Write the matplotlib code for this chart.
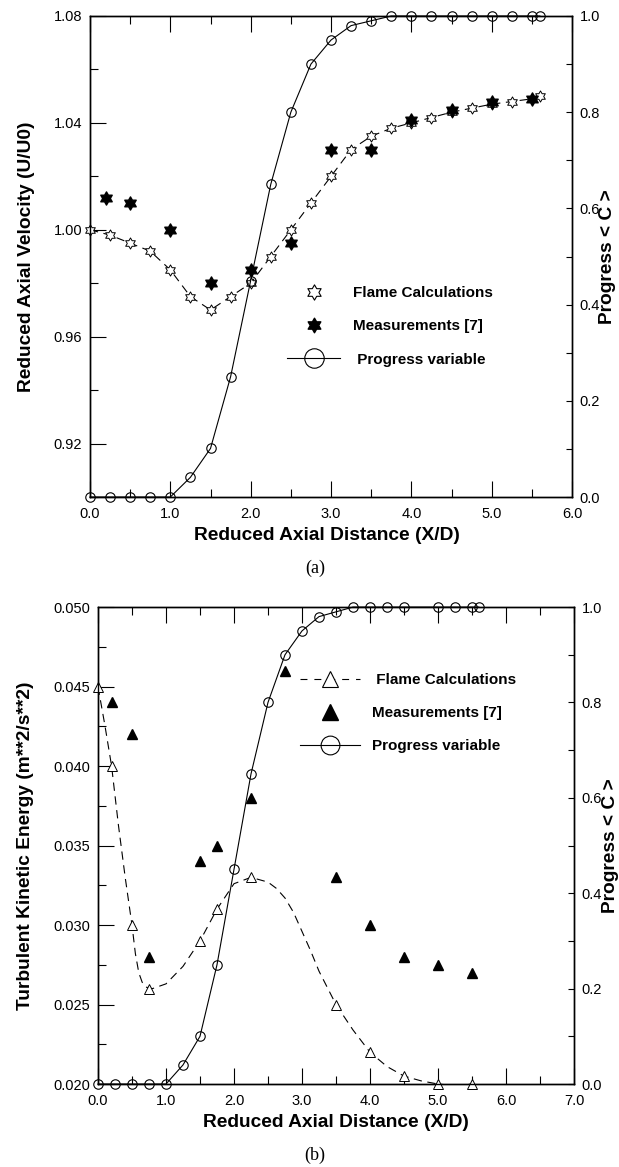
import numpy as np
import matplotlib.pyplot as plt
from matplotlib.path import Path
from matplotlib.lines import Line2D
from matplotlib.ticker import FixedLocator

plt.rcParams['font.family'] = ['Liberation Sans', 'DejaVu Sans']
plt.rcParams['lines.scale_dashes'] = False

# ---- panel (a): axial velocity ----
xa_calc = [0.0, 0.25, 0.5, 0.75, 1.0, 1.25, 1.5, 1.75, 2.0, 2.25, 2.5, 2.75,
           3.0, 3.25, 3.5, 3.75, 4.0, 4.25, 4.5, 4.75, 5.0, 5.25, 5.5, 5.6]
ua_calc = [1.000, 0.998, 0.995, 0.992, 0.985, 0.975, 0.970, 0.975, 0.980, 0.990,
           1.000, 1.010, 1.020, 1.030, 1.035, 1.038, 1.040, 1.042, 1.044, 1.0455,
           1.047, 1.048, 1.049, 1.050]
xa_meas = [0.2, 0.5, 1.0, 1.5, 2.0, 2.5, 3.0, 3.5, 4.0, 4.5, 5.0, 5.5]
ua_meas = [1.012, 1.010, 1.000, 0.980, 0.985, 0.995, 1.030, 1.030, 1.041,
           1.045, 1.048, 1.049]
xa_prog = xa_calc
ca_prog = [0.0, 0.0, 0.0, 0.0, 0.0, 0.041, 0.101, 0.25, 0.45, 0.65, 0.80, 0.90,
           0.95, 0.98, 0.99, 1.0, 1.0, 1.0, 1.0, 1.0, 1.0, 1.0, 1.0, 1.0]

# ---- panel (b): turbulent kinetic energy ----
xb_calc = [0.0, 0.2, 0.5, 0.75, 1.5, 1.75, 2.25, 3.5, 4.0, 4.5, 5.0, 5.5]
kb_calc = [0.045, 0.040, 0.030, 0.026, 0.029, 0.031, 0.033, 0.025, 0.022,
           0.0205, 0.020, 0.020]
# dashed calculation curve
xb_curve = [0.0, 0.1, 0.2, 0.3, 0.4, 0.5, 0.55, 0.6, 0.65, 0.7, 0.8, 1.0, 1.25,
            1.5, 1.75, 2.0, 2.25, 2.5, 2.625, 2.75, 2.875, 3.0, 3.125, 3.25,
            3.5, 3.75, 4.0, 4.25, 4.5, 4.75, 5.0, 5.25, 5.5]
kb_curve = [0.045, 0.0426, 0.040, 0.0363, 0.0330, 0.030, 0.0282, 0.0270, 0.0264,
            0.0261, 0.0260, 0.0263, 0.0274, 0.029, 0.031, 0.0326, 0.033, 0.0327,
            0.0323, 0.0317, 0.0308, 0.0296, 0.0284, 0.0271, 0.025, 0.0234, 0.022,
            0.0211, 0.0205, 0.0202, 0.020, 0.0199, 0.020]
xb_meas = [0.2, 0.5, 0.75, 1.5, 1.75, 2.25, 2.75, 3.5, 4.0, 4.5, 5.0, 5.5]
kb_meas = [0.044, 0.042, 0.028, 0.034, 0.035, 0.038, 0.046, 0.033, 0.030,
           0.028, 0.0275, 0.027]
xb_prog = [0.0, 0.25, 0.5, 0.75, 1.0, 1.25, 1.5, 1.75, 2.0, 2.25, 2.5, 2.75,
           3.0, 3.25, 3.5, 3.75, 4.0, 4.25, 4.5, 5.0, 5.25, 5.5, 5.6]
cb_prog = [0.0, 0.0, 0.0, 0.0, 0.0, 0.04, 0.10, 0.25, 0.45, 0.65, 0.80, 0.90,
           0.95, 0.98, 0.99, 1.0, 1.0, 1.0, 1.0, 1.0, 1.0, 1.0, 1.0]

star = Path.unit_regular_star(6, innerCircle=0.577)
lw = 0.8
dash = (6, 4)


def style_axes(ax, ax2, xmax, ymajor, yminor, ylabels, xlab_xy, ylab_x, rlab_x):
    for a in (ax, ax2):
        for s in a.spines.values():
            s.set_linewidth(1.0)
    ax.set_xlim(0, xmax)
    ax.xaxis.set_major_locator(FixedLocator(np.arange(0, xmax + 0.01, 1.0)))
    ax.xaxis.set_minor_locator(FixedLocator(np.arange(0.5, xmax, 1.0)))
    ax.set_xticklabels(['%.1f' % v for v in np.arange(0, xmax + 0.01, 1.0)])
    ax.set_yticks(ymajor)
    ax.set_yticklabels(ylabels)
    ax.yaxis.set_minor_locator(FixedLocator(yminor))
    ax.tick_params(which='both', direction='in', width=0.8, labelsize=10.5,
                   top=True, right=False)
    ax.tick_params(which='major', length=11.5)
    ax.tick_params(which='minor', length=5.5)
    ax.tick_params(axis='x', pad=7.5)
    ax.tick_params(axis='y', pad=5.5)

    ax2.set_ylim(0, 1.0)
    ax2.set_yticks(np.arange(0, 1.01, 0.2))
    ax2.set_yticklabels(['%.1f' % v for v in np.arange(0, 1.01, 0.2)])
    ax2.yaxis.set_minor_locator(FixedLocator(np.arange(0.1, 1.0, 0.2)))
    ax2.tick_params(axis='y', which='both', direction='in', length=4,
                    width=0.8, pad=5.5, labelsize=10.5)

    ax.set_xlabel('Reduced Axial Distance (X/D)', fontsize=13.8, fontweight='bold')
    ax.xaxis.set_label_coords(xlab_xy[0], xlab_xy[1])
    ax.yaxis.set_label_coords(ylab_x, 0.5)
    ax2.set_ylabel('Progress < C >', fontsize=13.8, fontweight='bold')
    ax2.yaxis.set_label_coords(rlab_x, 0.5)


fig = plt.figure(figsize=(6.19, 11.67), dpi=100)

# ---------------- (a) ----------------
ax = fig.add_axes([0.1454, 0.5741, 0.7787, 0.4122])
ax2 = ax.twinx()
ax.set_ylim(0.90, 1.08)
ax.plot(xa_calc, ua_calc, color='k', lw=lw, dashes=dash, marker=star, ms=8,
        mfc='white', mec='k', mew=0.7, clip_on=False, zorder=3)
ax.plot(xa_meas, ua_meas, ls='none', marker=star, ms=9.5, mfc='k', mec='k',
        clip_on=False, zorder=4)
ax2.plot(xa_prog, ca_prog, color='k', lw=lw, marker='o', ms=6.8, mfc='none',
         mec='k', mew=0.8, clip_on=False)
ax.set_ylabel('Reduced Axial Velocity (U/U0)', fontsize=13.8, fontweight='bold')
style_axes(ax, ax2, 6.0, [0.92, 0.96, 1.00, 1.04, 1.08],
           [0.90, 0.94, 0.98, 1.02, 1.06],
           ['0.92', '0.96', '1.00', '1.04', '1.08'],
           (0.492, -0.062), -0.114, 1.057)

handles_a = [
    Line2D([], [], ls='none', marker=star, ms=11, mfc='white', mec='k', mew=0.8),
    Line2D([], [], ls='none', marker=star, ms=10.5, mfc='k', mec='k'),
    Line2D([], [], color='k', lw=lw, marker='o', ms=14, mfc='none', mec='k', mew=0.8),
]
ax2.legend(handles_a, ['Flame Calculations', 'Measurements [7]', ' Progress variable'],
           loc='upper left', bbox_to_anchor=(0.4087, 0.438), frameon=False,
           borderpad=0, borderaxespad=0, handlelength=3.5, handletextpad=0.85,
           labelspacing=1.25, prop={'weight': 'bold', 'size': 11})
fig.text(0.509, 0.513, '(a)', family='Liberation Serif', fontsize=13,
         ha='center', va='center')

# ---------------- (b) ----------------
bx = fig.add_axes([0.1583, 0.0711, 0.7690, 0.4087])
bx2 = bx.twinx()
bx.set_ylim(0.020, 0.050)
bx.plot(xb_curve, kb_curve, color='k', lw=lw, dashes=dash, zorder=2)
bx.plot(xb_calc, kb_calc, ls='none', marker='^', ms=6.5, mfc='white', mec='k',
        mew=0.7, clip_on=False, zorder=3)
bx.plot(xb_meas, kb_meas, ls='none', marker='^', ms=7.5, mfc='k', mec='k',
        clip_on=False, zorder=4)
bx2.plot(xb_prog, cb_prog, color='k', lw=lw, marker='o', ms=6.8, mfc='none',
         mec='k', mew=0.8, clip_on=False)
bx.set_ylabel('Turbulent Kinetic Energy (m**2/s**2)', fontsize=13.8,
              fontweight='bold')
yb = np.arange(0.020, 0.0501, 0.005)
style_axes(bx, bx2, 7.0, yb, np.arange(0.0225, 0.050, 0.005),
           ['%.3f' % v for v in yb], (0.5, -0.062), -0.134, 1.059)

handles_b = [
    Line2D([], [], color='k', lw=lw, dashes=(5, 5), marker='^', ms=12,
           mfc='white', mec='k', mew=0.8),
    Line2D([], [], ls='none', marker='^', ms=11, mfc='k', mec='k'),
    Line2D([], [], color='k', lw=lw, marker='o', ms=13.5, mfc='none', mec='k', mew=0.8),
]
bx2.legend(handles_b, [' Flame Calculations', 'Measurements [7]', 'Progress variable'],
           loc='upper left', bbox_to_anchor=(0.4244, 0.862), frameon=False,
           borderpad=0, borderaxespad=0, handlelength=3.9, handletextpad=0.8,
           labelspacing=1.25, prop={'weight': 'bold', 'size': 11})
fig.text(0.509, 0.0103, '(b)', family='Liberation Serif', fontsize=13,
         ha='center', va='center')

fig.savefig('out.png', dpi=100)
